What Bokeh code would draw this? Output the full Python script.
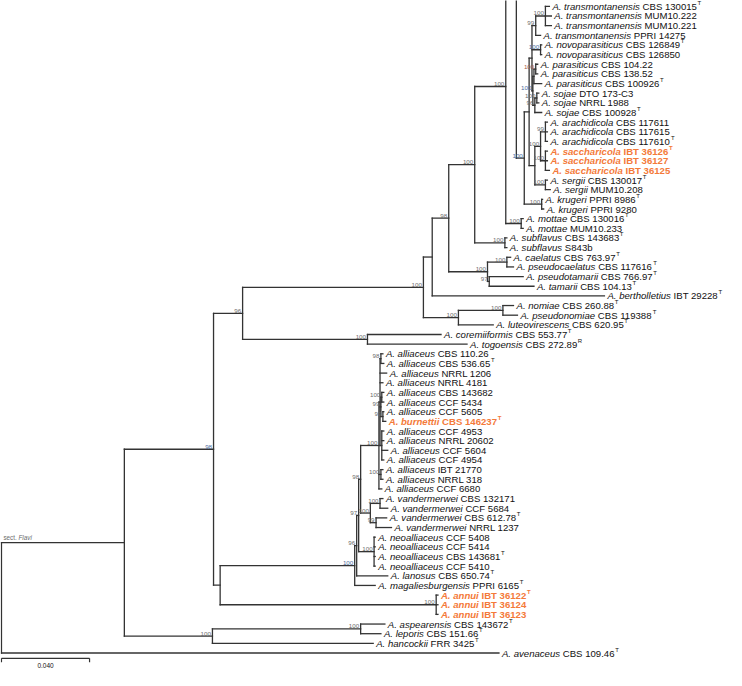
from bokeh.plotting import figure
from bokeh.models import Range1d, ColumnDataSource
from bokeh.embed import file_html
from bokeh.resources import INLINE
from bokeh.core.properties import value

# ---------------- data ----------------
tip_species = [
    "transmontanensis", "transmontanensis", "transmontanensis", "transmontanensis",
    "novoparasiticus", "novoparasiticus",
    "parasiticus", "parasiticus", "parasiticus",
    "sojae", "sojae", "sojae",
    "arachidicola", "arachidicola", "arachidicola",
    "saccharicola", "saccharicola", "saccharicola",
    "sergii", "sergii", "krugeri", "krugeri", "mottae", "mottae",
    "subflavus", "subflavus", "caelatus", "pseudocaelatus", "pseudotamarii", "tamarii",
    "bertholletius", "nomiae", "pseudonomiae", "luteovirescens", "coremiiformis", "togoensis",
    "alliaceus", "alliaceus", "alliaceus", "alliaceus", "alliaceus", "alliaceus", "alliaceus",
    "burnettii",
    "alliaceus", "alliaceus", "alliaceus", "alliaceus", "alliaceus", "alliaceus", "alliaceus",
    "vandermerwei", "vandermerwei", "vandermerwei", "vandermerwei",
    "neoalliaceus", "neoalliaceus", "neoalliaceus", "neoalliaceus",
    "lanosus", "magaliesburgensis", "annui", "annui", "annui",
    "aspearensis", "leporis", "hancockii", "avenaceus",
]
tip_strain = [
    "CBS 130015", "MUM10.222", "MUM10.221", "PPRI 14275", "CBS 126849", "CBS 126850",
    "CBS 104.22", "CBS 138.52", "CBS 100926", "DTO 173-C3", "NRRL 1988", "CBS 100928",
    "CBS 117611", "CBS 117615", "CBS 117610", "IBT 36126", "IBT 36127", "IBT 36125",
    "CBS 130017", "MUM10.208", "PPRI 8986", "PPRI 9280", "CBS 130016", "MUM10.233",
    "CBS 143683", "S843b", "CBS 763.97", "CBS 117616", "CBS 766.97", "CBS 104.13",
    "IBT 29228", "CBS 260.88", "CBS 119388", "CBS 620.95", "CBS 553.77", "CBS 272.89",
    "CBS 110.26", "CBS 536.65", "NRRL 1206", "NRRL 4181", "CBS 143682", "CCF 5434",
    "CCF 5605", "CBS 146237", "CCF 4953", "NRRL 20602", "CCF 5604", "CCF 4954",
    "IBT 21770", "NRRL 318", "CCF 6680", "CBS 132171", "CCF 5684", "CBS 612.78",
    "NRRL 1237", "CCF 5408", "CCF 5414", "CBS 143681", "CCF 5410", "CBS 650.74",
    "PPRI 6165", "IBT 36122", "IBT 36124", "IBT 36123", "CBS 143672", "CBS 151.66",
    "FRR 3425", "CBS 109.46",
]
tip_type = [
    "T", "", "", "", "T", "", "", "", "T", "", "", "T", "", "", "T", "T", "", "",
    "T", "", "T", "", "T", "", "T", "", "T", "T", "T", "T", "T", "T", "T", "T", "T", "R",
    "", "T", "", "", "", "", "", "T", "", "", "", "", "", "", "",
    "", "", "T", "", "", "", "T", "", "T", "T", "T", "", "", "T", "T", "T", "T",
]
tip_new_species = [i in (15, 16, 17, 43, 61, 62, 63) for i in range(68)]
tip_depth = [
    0.2488, 0.2497, 0.2497, 0.2448, 0.2453, 0.2453, 0.2435, 0.2435, 0.2453, 0.2440,
    0.2440, 0.2453, 0.2479, 0.2479, 0.2479, 0.2479, 0.2479, 0.2488, 0.2479, 0.2492,
    0.2457, 0.2462, 0.2369, 0.2369, 0.2295, 0.2295, 0.2312, 0.2325, 0.2369, 0.2418,
    0.2738, 0.2325, 0.2343, 0.2233, 0.1996, 0.2114,
    0.1732, 0.1736, 0.1749, 0.1732, 0.1736, 0.1736, 0.1736, 0.1745, 0.1736, 0.1736,
    0.1754, 0.1736, 0.1732, 0.1732, 0.1727, 0.1732, 0.1754, 0.1749, 0.1771,
    0.1697, 0.1697, 0.1697, 0.1697, 0.1754, 0.1697, 0.1982, 0.1982, 0.1982,
    0.1741, 0.1723, 0.1688, 0.2259,
]
tip_parent = [
    "T3", "T3", "T3", "T4", "NOV", "NOV", "PAR2", "PAR2", "P", "SOJ1", "SOJ1", "SOJ",
    "ARA", "ARA", "ARA", "SAC", "SAC", "SAC", "SER", "SER", "KRU", "KRU", "MOT", "MOT",
    "SUB", "SUB", "CAE", "CAE", "TAM", "TAM", "H", "NOM", "NOM", "NG", "CT", "CT",
    "A1", "A1", "AT", "AT", "A2a", "A2a", "A2b", "A2b", "A4", "A4", "A4", "A4",
    "A3", "A3", "AL", "V1", "V1", "V2", "V2", "NEO", "NEO", "NEO", "NEO",
    "PP", "Q", "ANN", "ANN", "ANN", "AL2", "AL2", "D", "root",
]

node_name = ["root", "flavi", "C", "D", "AL2", "F", "E", "G", "CT", "H", "NG", "NOM",
             "R", "I", "S", "CAE", "TAM", "J", "SUB", "K", "MOT", "L", "KRU", "M", "U",
             "W", "T4", "T3", "NOV", "PS", "P", "PAR2", "SOJ", "SOJ1", "AS", "ARA", "SAC",
             "SER", "Q", "PP", "O", "N", "AL", "AT", "A1", "A2", "A2a", "A2b", "A4", "A3",
             "V", "V1", "V2", "NEO", "ANN"]
node_parent = [None, "root", "flavi", "flavi", "D", "C", "C", "F", "F", "G", "G", "NG",
               "H", "R", "R", "S", "S", "I", "I", "J", "J", "K", "L", "L", "M",
               "M", "U", "T4", "U", "U", "PS", "P", "PS", "SOJ", "W", "AS", "AS",
               "W", "E", "Q", "PP", "O", "N", "AL", "AT", "AT", "A2", "A2", "AT", "AL",
               "N", "V", "V", "O", "E"]
node_depth = [0.0, 0.0558, 0.0963, 0.0958, 0.1631, 0.1095, 0.0993, 0.1916, 0.1662, 0.1956,
              0.2075, 0.2277, 0.2031, 0.2149, 0.2207, 0.2295, 0.2215, 0.2290, 0.2286, 0.2338,
              0.2360, 0.2374, 0.2453, 0.2396, 0.2409, 0.2422, 0.2426, 0.2470, 0.2448, 0.2413,
              0.2418, 0.2426, 0.2422, 0.2431, 0.2448, 0.2470, 0.2470, 0.2470, 0.1604, 0.1613,
              0.1622, 0.1631, 0.1714, 0.1719, 0.1723, 0.1723, 0.1727, 0.1732, 0.1727, 0.1723,
              0.1675, 0.1719, 0.1701, 0.1692, 0.1974]
node_support = ["", "", "98", "100", "100", "96", "", "100", "100", "", "100", "100",
                "98", "100", "100", "100", "97", "100", "100", "", "100", "100", "100", "", "",
                "", "99", "100", "100", "100", "", "100", "96", "100", "100", "99", "100",
                "100", "100", "96", "97", "98", "100", "", "98", "99", "100", "99", "", "100",
                "100", "100", "99", "100", "100"]

# part of the tree above the cropped top edge
cropped_parent = "K"
cropped_row = -27.5
cropped_depth = 0.26

group_label = ("sect. ", "Flavi")
group_node = "flavi"
scale_length = 0.040
scale_label = "0.040"

# ---------------- styles ----------------
BLUE = "#4a6a9c"
RED = "#a35a4a"
GREY = "#6b6b6b"
support_color = {"C": BLUE, "L": BLUE, "NOV": BLUE, "PS": BLUE, "Q": BLUE, "PAR2": RED}
LINE = "#333333"
TXT = "#111111"
NEW = "#f47a3a"
FONT = "Liberation Sans"
FS = 9.6
SUP_FS = 6.0
SUPPORT_FS = 6.2

REG = dict(zip("abcdefghijklmnopqrstuvwxyz",
               [556, 556, 500, 556, 556, 278, 556, 556, 222, 222, 500, 222, 833, 556, 556,
                556, 556, 333, 500, 278, 556, 500, 722, 500, 500, 500]))
REG.update(dict(zip("ABCDEFGHIJKLMNOPQRSTUVWXYZ",
                    [667, 667, 722, 722, 667, 611, 778, 722, 278, 500, 667, 556, 833, 722,
                     778, 667, 778, 722, 667, 611, 722, 667, 944, 667, 667, 611])))
BOLD = dict(zip("abcdefghijklmnopqrstuvwxyz",
                [556, 611, 556, 611, 556, 333, 611, 611, 278, 278, 556, 278, 889, 611, 611,
                 611, 611, 389, 556, 333, 611, 556, 778, 556, 556, 500]))
BOLD.update(dict(zip("ABCDEFGHIJKLMNOPQRSTUVWXYZ",
                     [722, 722, 722, 722, 667, 611, 778, 722, 278, 556, 722, 611, 833, 722,
                      778, 667, 778, 722, 667, 611, 722, 667, 944, 667, 667, 611])))
for tbl in (REG, BOLD):
    tbl.update({d: 556 for d in "0123456789"})
    tbl.update({".": 278, " ": 278, "-": 333})


def text_w(s, size, bold=False):
    t = BOLD if bold else REG
    return sum(t.get(ch, 556) for ch in s) * size / 1000.0


# ---------------- tree layout ----------------
depth, ypos, children = {}, {}, {}
for i, (par, d) in enumerate(zip(tip_parent, tip_depth)):
    key = "tip%d" % i
    depth[key] = d
    ypos[key] = float(i)
    children.setdefault(par, []).append(key)
depth["crop"] = cropped_depth
ypos["crop"] = cropped_row
children.setdefault(cropped_parent, []).append("crop")
for n, par, d in zip(node_name, node_parent, node_depth):
    depth[n] = d
    if par is not None:
        children.setdefault(par, []).append(n)


def get_y(n):
    if n in ypos:
        return ypos[n]
    ys = sorted(get_y(c) for c in children[n])
    ypos[n] = (ys[0] + ys[-1]) / 2.0
    return ypos[n]


for n in node_name:
    get_y(n)

x0s, y0s, x1s, y1s = [], [], [], []
for n in node_name:
    ys = [ypos[c] for c in children[n]]
    x0s.append(depth[n]); x1s.append(depth[n]); y0s.append(min(ys)); y1s.append(max(ys))
    for c in children[n]:
        x0s.append(depth[n]); x1s.append(depth[c]); y0s.append(ypos[c]); y1s.append(ypos[c])

# ---------------- figure ----------------
W, H = 726, 670
REF_W, REF_H = 750.0, 690.0          # reference extent squeezed into the frame
PX_PER_UNIT = 2275.0 * W / REF_W
x_start = -1.0 / 2275.0
x_end = x_start + W / PX_PER_UNIT
ROW_PX = 9.94 * H / REF_H
y_top = -6.0 / 9.94
y_bottom = y_top + H / ROW_PX

p = figure(width=W, height=H, output_backend="svg", toolbar_location=None,
           x_range=Range1d(x_start, x_end), y_range=Range1d(y_bottom, y_top),
           x_axis_type=None, y_axis_type=None, min_border=0,
           outline_line_color=None, background_fill_color="white")
p.grid.visible = False

p.segment(x0=x0s, y0=y0s, x1=x1s, y1=y1s, line_color=LINE, line_width=1.3,
          line_cap="square")

# tip labels
for new_flag in (False, True):
    sx, sy, st, so, rt, ro, ux, ut, uo, uy = [], [], [], [], [], [], [], [], [], []
    for i in range(len(tip_species)):
        if tip_new_species[i] != new_flag:
            continue
        sp = "A. " + tip_species[i]
        off1 = 3.0
        off2 = off1 + text_w(sp + " ", FS, new_flag)
        off3 = off2 + text_w(tip_strain[i], FS, new_flag) + 0.6
        sx.append(tip_depth[i]); sy.append(float(i)); st.append(sp); so.append(off1)
        rt.append(tip_strain[i]); ro.append(off2)
        if tip_type[i]:
            ux.append(tip_depth[i]); uy.append(float(i)); ut.append(tip_type[i]); uo.append(off3)
    col = NEW if new_flag else TXT
    p.text(x="x", y="y", text="t", x_offset="o",
           source=ColumnDataSource(dict(x=sx, y=sy, t=st, o=so)),
           text_font=value(FONT), text_font_size="%.1fpx" % FS,
           text_font_style="bold italic" if new_flag else "italic",
           text_color=col, text_baseline="middle", text_align="left")
    p.text(x="x", y="y", text="t", x_offset="o",
           source=ColumnDataSource(dict(x=sx, y=sy, t=rt, o=ro)),
           text_font=value(FONT), text_font_size="%.1fpx" % FS,
           text_font_style="bold" if new_flag else "normal",
           text_color=col, text_baseline="middle", text_align="left")
    p.text(x="x", y="y", text="t", x_offset="o",
           source=ColumnDataSource(dict(x=ux, y=uy, t=ut, o=uo)),
           text_font=value(FONT), text_font_size="%.1fpx" % SUP_FS,
           text_font_style="bold" if new_flag else "normal", y_offset=-3.5,
           text_color=col, text_baseline="middle", text_align="left")

# support values
lx, ly, lt, lc = [], [], [], []
for n, s in zip(node_name, node_support):
    if s:
        lx.append(depth[n]); ly.append(ypos[n]); lt.append(s)
        lc.append(support_color.get(n, GREY))
p.text(x="x", y="y", text="t", text_color="c",
       source=ColumnDataSource(dict(x=lx, y=ly, t=lt, c=lc)),
       text_font=value(FONT), text_font_size="%.1fpx" % SUPPORT_FS,
       text_align="right", text_baseline="bottom", x_offset=-1.5, y_offset=-0.5)

# section label on its branch
gx = depth["root"]
gy = ypos[group_node]
p.text(x=[gx], y=[gy], text=[group_label[0]], x_offset=2, y_offset=-1.5,
       text_font=value(FONT), text_font_size="6.3px", text_color=GREY,
       text_baseline="bottom", text_align="left")
p.text(x=[gx], y=[gy], text=[group_label[1]],
       x_offset=2 + text_w(group_label[0], 6.3), y_offset=-1.5,
       text_font=value(FONT), text_font_size="6.3px", text_font_style="italic",
       text_color=GREY, text_baseline="bottom", text_align="left")

# scale bar
bar_row = len(tip_species) - 1 + 0.55
p.segment(x0=[0.0], y0=[bar_row], x1=[scale_length], y1=[bar_row],
          line_color=LINE, line_width=1.2)
p.segment(x0=[0.0, scale_length], y0=[bar_row, bar_row],
          x1=[0.0, scale_length], y1=[bar_row + 0.4, bar_row + 0.4],
          line_color=LINE, line_width=1.2)
p.text(x=[scale_length / 2], y=[bar_row + 0.72], text=[scale_label],
       text_font=value(FONT), text_font_size="6.5px", text_color=TXT,
       text_align="center", text_baseline="middle")

open("out.html", "w").write(file_html(p, INLINE))
